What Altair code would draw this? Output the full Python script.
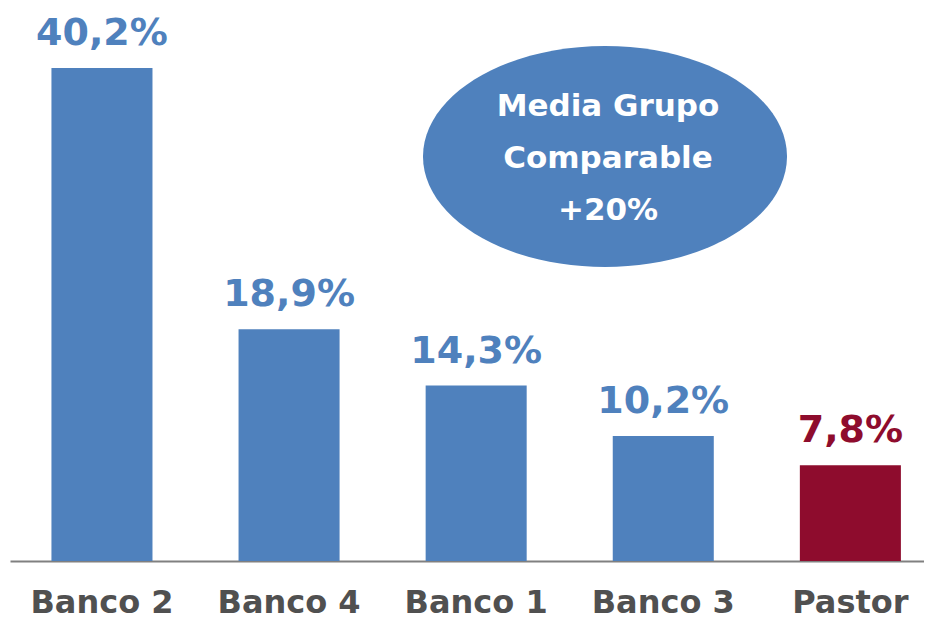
import altair as alt
import pandas as pd

bancos = ["Banco 2", "Banco 4", "Banco 1", "Banco 3", "Pastor"]
valores = [40.2, 18.9, 14.3, 10.2, 7.8]
etiquetas = ["40,2%", "18,9%", "14,3%", "10,2%", "7,8%"]
nota = ["Media Grupo", "Comparable", "+20%"]

BLUE = "#4F81BD"
RED = "#8E0C2D"
FONT = "DejaVu Sans"

df = pd.DataFrame({"banco": bancos, "valor": valores, "etiqueta": etiquetas})

x = alt.X(
    "banco:N",
    sort=bancos,
    title=None,
    scale=alt.Scale(paddingInner=0.46, paddingOuter=0.1725, align=0.642),
    axis=alt.Axis(
        labelAngle=0,
        labelFont=FONT,
        labelFontSize=32,
        labelFontWeight="bold",
        labelColor="#505050",
        labelBaseline="alphabetic",
        labelPadding=51,
        ticks=False,
        tickSize=0,
        domainColor="#808080",
        domainWidth=2,
        grid=False,
    ),
)
y = alt.Y("valor:Q", scale=alt.Scale(domain=[0, 45.09], nice=False, zero=True), axis=None)

color = alt.condition(alt.datum.banco == "Pastor", alt.value(RED), alt.value(BLUE))

base = alt.Chart(df).encode(x=x, y=y)

bars = base.mark_bar().encode(color=color)

labels = base.mark_text(
    font=FONT, fontSize=38, fontWeight="bold", baseline="alphabetic", dy=-23
).encode(text="etiqueta:N", color=color)

ellipse_path = "M -1 0 A 1 0.607 0 1 0 1 0 A 1 0.607 0 1 0 -1 0 Z"
ellipse = alt.Chart(pd.DataFrame({"k": [0]})).mark_point(
    shape=ellipse_path, filled=True, fill=BLUE, opacity=1, strokeWidth=0, size=364 * 364
).encode(x=alt.value(595), y=alt.value(148.5))

nota_df = pd.DataFrame({"linea": nota, "orden": [0, 1, 2]})
nota_text = alt.Chart(nota_df).mark_text(
    font=FONT, fontSize=31, fontWeight="bold", color="white", baseline="alphabetic", align="center"
).encode(
    text="linea:N",
    x=alt.value(598),
    y=alt.Y("orden:Q", scale=alt.Scale(domain=[0, 2], range=[108, 212], nice=False, zero=False), axis=None),
)

chart = (
    alt.layer(bars, labels, ellipse, nota_text)
    .resolve_scale(y="independent")
    .properties(
        width=914,
        height=553,
        padding={"left": 2, "top": 0, "right": 0, "bottom": 58},
        autosize=alt.AutoSizeParams(type="none"),
        background="white",
    )
    .configure_view(stroke=None)
)

chart.save("out.html", embed_options={"renderer": "svg", "actions": False})
